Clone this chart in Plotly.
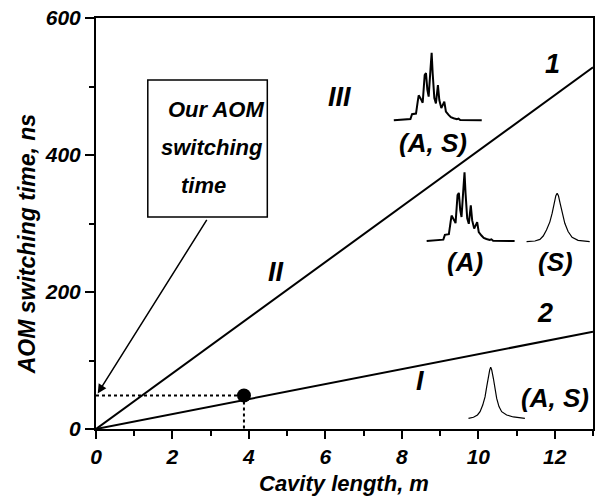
import plotly.graph_objects as go

# ---------------- data ----------------
cavity_len = [0, 13]                 # m
line1_time = [0, 528]                # ns, curve "1"
line2_time = [0, 142]                # ns, curve "2"
our_len = [3.87]                     # m
our_time = [49]                      # ns

x_ticks = [0, 2, 4, 6, 8, 10, 12]
y_ticks = [0, 200, 400, 600]

# multi-peak spectrum (relative frequency, normalized intensity)
multi_x = [-38, -21.3, -19.7, -15.7, -14, -13, -10.3, -9, -7, -5.7, -4.3, -3, -1, 0, 1,
           2.7, 4.3, 6.3, 7.7, 9.7, 12.7, 14.3, 17, 19.3, 22, 25.3, 27, 28.7, 50.3]
multi_y = [0, 0.02, 0.09, 0.10, 0.275, 0.37, 0.30, 0.26, 0.67, 0.70, 0.45, 0.35, 0.79, 1.0, 0.70,
           0.33, 0.25, 0.52, 0.30, 0.18, 0.275, 0.13, 0.08, 0.045, 0.03, 0.015, 0.025, 0.005, 0]

# single-peak spectrum (S)
s_x = [-30.7, -22.3, -17.3, -14, -10.7, -7.3, -5, -3, -1.3, 0, 1.3, 3, 5, 7.7, 11, 15, 21, 32.7]
s_y = [0, 0.014, 0.048, 0.117, 0.24, 0.41, 0.59, 0.79, 0.95, 1, 0.95, 0.79, 0.59, 0.38, 0.21, 0.09, 0.028, 0]

# single-peak spectrum (A, S) in region I
p_x = [-22.3, -17.3, -13.3, -10.7, -8, -5.7, -4, -2.3, -1, 0, 1, 2.7, 4.3, 6, 8.3, 11, 16, 22.7, 34.3]
p_y = [0, 0.02, 0.065, 0.13, 0.26, 0.42, 0.62, 0.82, 0.95, 1, 0.95, 0.78, 0.59, 0.39, 0.23, 0.13, 0.065, 0.026, 0]

# ---------------- layout geometry ----------------
W, H = 597, 499
L, R, T, B = 96, 2, 18, 70
PW, PH = W - L - R, H - T - B

FONT = "Liberation Sans, Arial, sans-serif"


def px_x(p):
    return (p - L) / PW


def px_y(p):
    return (H - B - p) / PH


fig = go.Figure()

fig.add_trace(go.Scatter(x=cavity_len, y=line1_time, mode="lines",
                         line=dict(color="black", width=2), showlegend=False))
fig.add_trace(go.Scatter(x=cavity_len, y=line2_time, mode="lines",
                         line=dict(color="black", width=2), showlegend=False))
# dotted guides
fig.add_trace(go.Scatter(x=[0, our_len[0]], y=[our_time[0], our_time[0]], mode="lines",
                         line=dict(color="black", width=2, dash="dot"), showlegend=False))
fig.add_trace(go.Scatter(x=[our_len[0], our_len[0]], y=[our_time[0], 0], mode="lines",
                         line=dict(color="black", width=2, dash="dot"), showlegend=False))
fig.add_trace(go.Scatter(x=our_len, y=our_time, mode="markers",
                         marker=dict(color="black", size=14, symbol="circle"),
                         showlegend=False, cliponaxis=False))

# insets: (xs, ys, peak_px_x, base_px_y, peak_px_y, width)
insets = [
    (multi_x, multi_y, 433, 120.3, 52.7, 2),
    (multi_x, multi_y, 466, 241, 172.3, 2),
    (s_x, s_y, 559, 241.7, 193.3, 1.2),
    (p_x, p_y, 492.3, 418.3, 367.3, 1.2),
]
for i, (xs, ys, pk, base, top, lw) in enumerate(insets, start=2):
    x0, x1 = min(xs) - 2, max(xs) + 2
    h = base - top
    y0, y1 = -0.06, 1.06
    fig.add_trace(go.Scatter(x=xs, y=ys, mode="lines", line=dict(color="black", width=lw),
                             xaxis=f"x{i}", yaxis=f"y{i}", showlegend=False))
    fig.update_layout(**{
        f"xaxis{i}": dict(domain=[px_x(pk + x0), px_x(pk + x1)], range=[x0, x1],
                          visible=False, anchor=f"y{i}", fixedrange=True),
        f"yaxis{i}": dict(domain=[px_y(base - y0 * h), px_y(base - y1 * h)], range=[y0, y1],
                          visible=False, anchor=f"x{i}", fixedrange=True),
    })

tickfont = dict(family=FONT, size=21, color="black", weight="bold", style="italic")

fig.update_layout(
    width=W, height=H,
    margin=dict(l=L, r=R, t=T, b=B),
    paper_bgcolor="white", plot_bgcolor="rgba(0,0,0,0)",
    showlegend=False,
    xaxis=dict(range=[0, 13], tickvals=x_ticks, ticks="outside", ticklen=8, tickwidth=1.5,
               tickcolor="black", showline=True, linecolor="black", linewidth=2, mirror=True,
               showgrid=False, zeroline=False, tickfont=tickfont,
               minor=dict(dtick=1, tick0=0, ticks="outside", ticklen=5, tickwidth=1.5,
                          tickcolor="black", showgrid=False)),
    yaxis=dict(range=[0, 600], tickvals=y_ticks, ticks="outside", ticklen=9, tickwidth=1.5,
               tickcolor="black", showline=True, linecolor="black", linewidth=2, mirror=True,
               showgrid=False, zeroline=False, tickfont=tickfont,
               minor=dict(dtick=100, tick0=0, ticks="outside", ticklen=5, tickwidth=1.5,
                          tickcolor="black", showgrid=False)),
)


def label(text, x, y, size=24, xanchor="center", angle=0):
    fig.add_annotation(text=text, x=px_x(x), y=px_y(y), xref="paper", yref="paper",
                       showarrow=False, xanchor=xanchor, yanchor="middle", textangle=angle,
                       font=dict(family=FONT, size=size, color="black", weight="bold", style="italic"))


# axis titles
label("Cavity length, m", 345, 483, size=22)
label("AOM switching time, ns", 27, 244, size=23, angle=-90)

# region & curve labels
label("1", 554, 64, size=27)
label("2", 547, 313, size=27)
label("III", 340, 97, size=27)
label("II", 277, 272, size=27)
label("I", 421, 381, size=27)
label("(A, S)", 434, 143, size=26)
label("(A)", 466, 262, size=26)
label("(S)", 557, 262, size=26)
label("(A, S)", 557, 398, size=26)

# text box
fig.add_shape(type="rect", xref="paper", yref="paper",
              x0=px_x(148), x1=px_x(268), y0=px_y(217), y1=px_y(80),
              line=dict(color="black", width=1.5), fillcolor="white")
label("Our AOM", 166, 110, size=22, xanchor="left")
label("switching", 159, 148, size=22, xanchor="left")
label("time", 179, 186, size=22, xanchor="left")

# arrow from box to the y-axis
fig.add_annotation(x=0.045, y=52, xref="x", yref="y", ax=110, ay=-175,
                   axref="pixel", ayref="pixel", text="", showarrow=True,
                   arrowhead=2, arrowsize=1.2, arrowwidth=1.5, arrowcolor="black")

fig.write_html("out.html")
